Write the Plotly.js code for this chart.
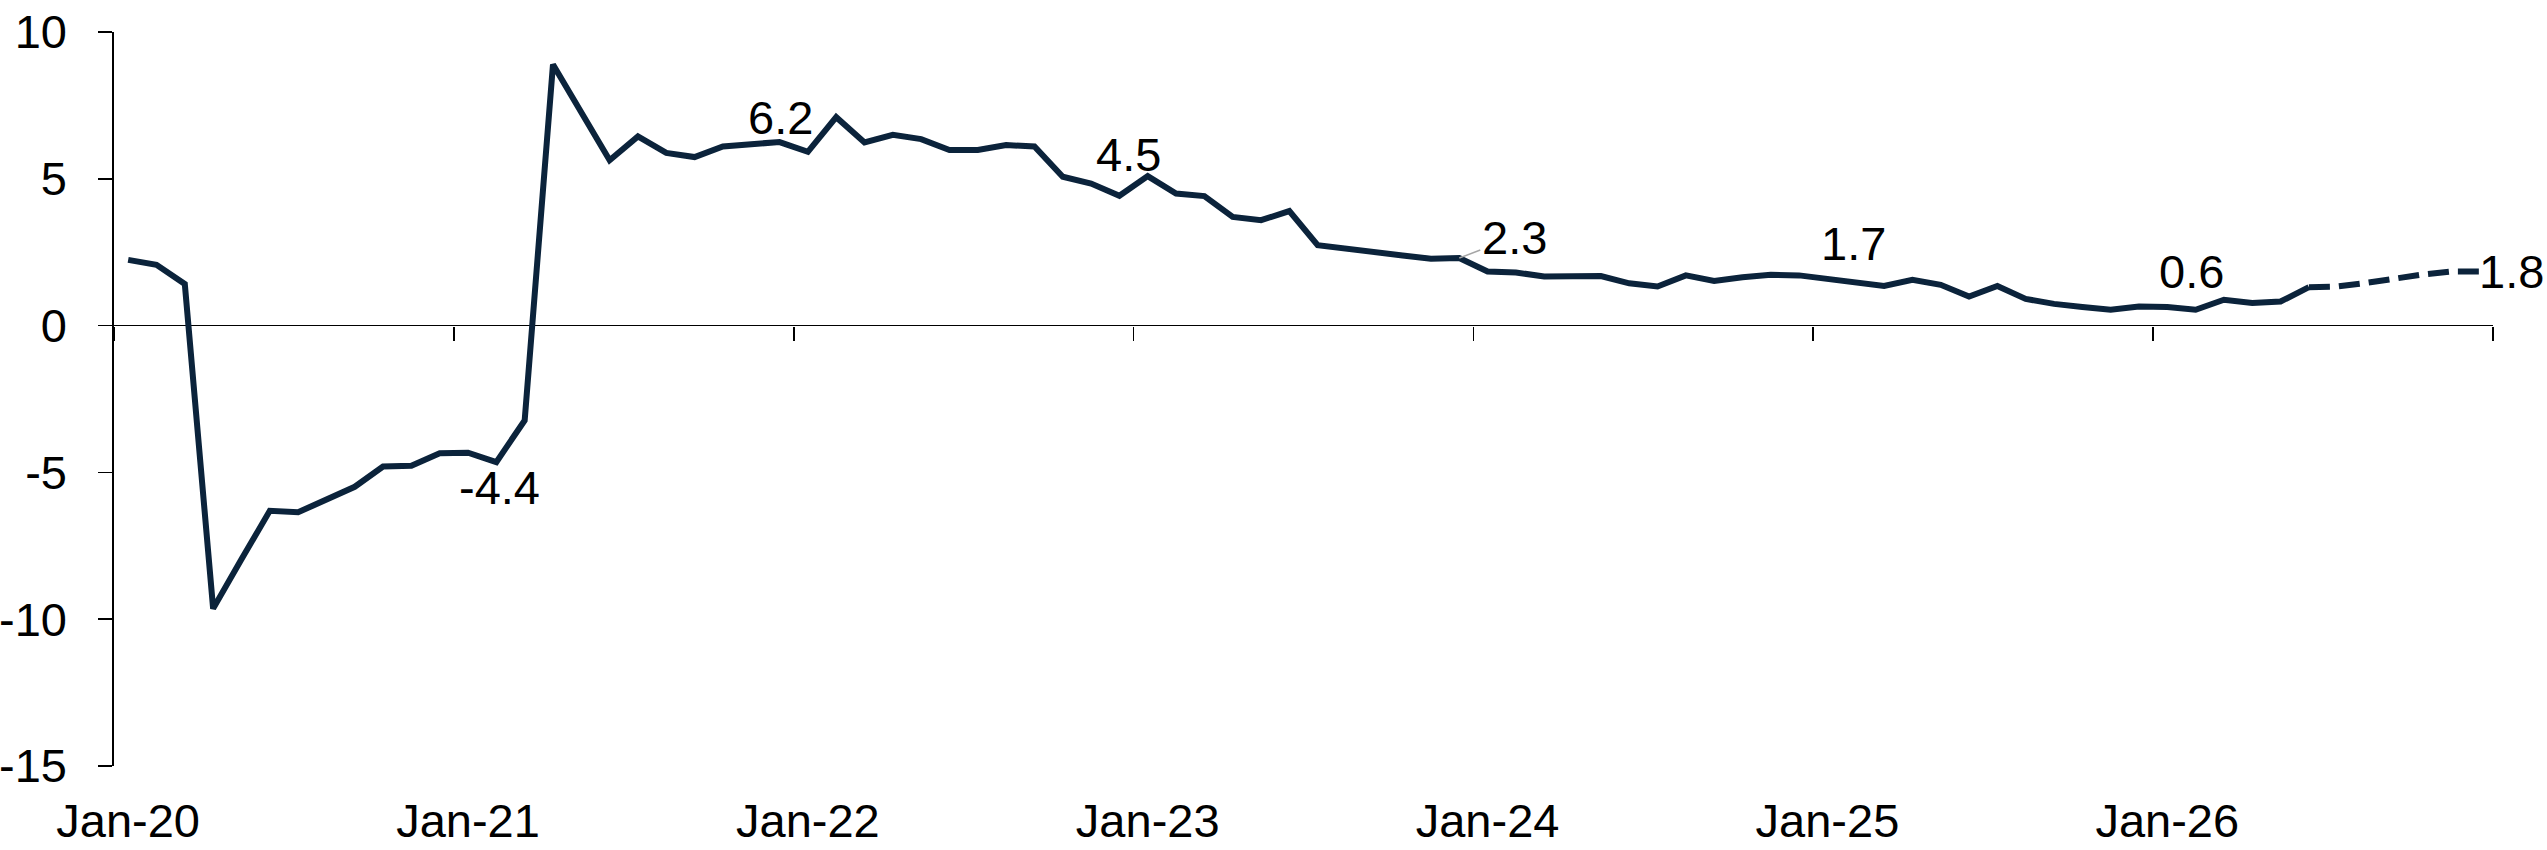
<!DOCTYPE html>
<html>
<head>
<meta charset="utf-8">
<script src="https://cdn.plot.ly/plotly-3.0.1.min.js"></script>
<style>
  html, body { margin: 0; padding: 0; background: #fff; }
  #chart { width: 2547px; height: 850px; }
</style>
</head>
<body>
<div id="chart"></div>
<script>
// monthly categories, Jan-20 .. Dec-26
const months = [
  'Jan-20','Feb-20','Mar-20','Apr-20','May-20','Jun-20','Jul-20','Aug-20','Sep-20','Oct-20','Nov-20','Dec-20',
  'Jan-21','Feb-21','Mar-21','Apr-21','May-21','Jun-21','Jul-21','Aug-21','Sep-21','Oct-21','Nov-21','Dec-21',
  'Jan-22','Feb-22','Mar-22','Apr-22','May-22','Jun-22','Jul-22','Aug-22','Sep-22','Oct-22','Nov-22','Dec-22',
  'Jan-23','Feb-23','Mar-23','Apr-23','May-23','Jun-23','Jul-23','Aug-23','Sep-23','Oct-23','Nov-23','Dec-23',
  'Jan-24','Feb-24','Mar-24','Apr-24','May-24','Jun-24','Jul-24','Aug-24','Sep-24','Oct-24','Nov-24','Dec-24',
  'Jan-25','Feb-25','Mar-25','Apr-25','May-25','Jun-25','Jul-25','Aug-25','Sep-25','Oct-25','Nov-25','Dec-25',
  'Jan-26','Feb-26','Mar-26','Apr-26','May-26','Jun-26','Jul-26','Aug-26','Sep-26','Oct-26','Nov-26','Dec-26'
];

const values = [
  2.24, 2.07, 1.42, -9.64, -7.96, -6.31, -6.36, -5.90, -5.49, -4.80, -4.77, -4.35,
  -4.33, -4.65, -3.23, 8.89, 7.25, 5.63, 6.44, 5.88, 5.74, 6.10, 6.18, 6.25,
  5.92, 7.10, 6.24, 6.50, 6.35, 5.98, 5.98, 6.15, 6.10, 5.07, 4.84, 4.42,
  5.09, 4.50, 4.41, 3.70, 3.59, 3.90, 2.74, 2.64, 2.54, 2.39, 2.28, 2.30,
  1.84, 1.81, 1.67, 1.69, 1.69, 1.44, 1.33, 1.71, 1.52, 1.65, 1.73, 1.71,
  1.59, 1.50, 1.35, 1.56, 1.39, 0.99, 1.35, 0.91, 0.74, 0.63, 0.54, 0.65,
  0.63, 0.54, 0.88, 0.77, 0.82, 1.31, 1.33, 1.45, 1.60, 1.74, 1.84, 1.84
];

// last month of the solid line; dashed from here on
const lastActual = 'Jun-26';

const tickLabels = ['Jan-20','Jan-21','Jan-22','Jan-23','Jan-24','Jan-25','Jan-26'];
const yTicks = [-15, -10, -5, 0, 5, 10];
const yTickText = ['-15', '-10', '-5', '0', '5', '10'];

// year-end labels
const labelMonths = ['Dec-20','Dec-21','Dec-22','Dec-23','Dec-24','Dec-25','Dec-26'];
const labelTexts  = ['-4.4','6.2','4.5','2.3','1.7','0.6','1.8'];

const lineColor = '#0b233b';
const font = 'Arial, "Liberation Sans", sans-serif';
const fs = 47;

const cut = months.indexOf(lastActual) + 1;

const solid = {
  x: months.slice(0, cut),
  y: values.slice(0, cut),
  type: 'scatter',
  mode: 'lines',
  line: { color: lineColor, width: 6 },
  hoverinfo: 'x+y'
};

// dashed part sits on the overlay axis (month index), which also carries the zero-line ticks
const dashed = {
  x: months.slice(cut - 1).map(m => months.indexOf(m)),
  y: values.slice(cut - 1),
  xaxis: 'x2',
  type: 'scatter',
  mode: 'lines',
  line: { color: lineColor, width: 6, dash: '21px,9px' },
  hoverinfo: 'y'
};

// label placement (pixel shifts from the point)
const labelStyle = [
  { xshift: 60, yshift: -34 },
  { xshift: 1, yshift: 25 },
  { xshift: 9, yshift: 41 },
  { arrow: true, ax: 55, ay: -21 },
  { xshift: 54, yshift: 32 },
  { xshift: 53, yshift: 35 },
  { xshift: -2, yshift: 0, xanchor: 'left' }
];

const annotations = labelMonths.map((m, i) => {
  const s = labelStyle[i];
  const a = {
    x: m,
    y: values[months.indexOf(m)],
    xref: 'x',
    yref: 'y',
    text: labelTexts[i],
    font: { family: font, size: fs, color: '#000' }
  };
  if (s.arrow) {
    a.showarrow = true;
    a.arrowhead = 0;
    a.arrowwidth = 1.5;
    a.arrowcolor = '#a6a6a6';
    a.ax = s.ax;
    a.ay = s.ay;
    a.standoff = 0;
  } else {
    a.showarrow = false;
    a.xshift = s.xshift;
    a.yshift = s.yshift;
    if (s.xanchor) a.xanchor = s.xanchor;
  }
  return a;
});

const layout = {
  width: 2547,
  height: 850,
  margin: { l: 114, r: 54, t: 32, b: 84 },
  paper_bgcolor: '#ffffff',
  plot_bgcolor: '#ffffff',
  showlegend: false,
  font: { family: font, size: fs, color: '#000' },
  xaxis: {
    type: 'category',
    categoryorder: 'array',
    categoryarray: months,
    range: [-0.5, months.length - 0.5],
    tickmode: 'array',
    tickvals: tickLabels,
    ticktext: tickLabels,
    ticks: '',
    ticklabelstandoff: 23,
    showline: false,
    showgrid: false,
    zeroline: false,
    tickfont: { family: font, size: fs, color: '#000' }
  },
  // tick marks sitting on the zero line, between years
  xaxis2: {
    overlaying: 'x',
    anchor: 'free',
    position: 0.6,
    type: 'linear',
    range: [-0.5, months.length - 0.5],
    tickmode: 'linear',
    tick0: -0.5,
    dtick: 12,
    ticks: 'outside',
    ticklen: 14,
    tickwidth: 1.6,
    tickcolor: '#000',
    showticklabels: false,
    showline: false,
    showgrid: false,
    zeroline: false
  },
  yaxis: {
    range: [-15, 10],
    tickmode: 'array',
    tickvals: yTicks,
    ticktext: yTickText,
    ticks: 'outside',
    ticklen: 14,
    tickwidth: 1.6,
    tickcolor: '#000',
    ticklabelstandoff: 22,
    showline: true,
    linecolor: '#000',
    linewidth: 1.6,
    showgrid: false,
    zeroline: true,
    zerolinecolor: '#000',
    zerolinewidth: 1.6,
    tickfont: { family: font, size: fs, color: '#000' }
  },
  annotations: annotations
};

Plotly.newPlot('chart', [solid, dashed], layout, { displayModeBar: false, staticPlot: true });
</script>
</body>
</html>
